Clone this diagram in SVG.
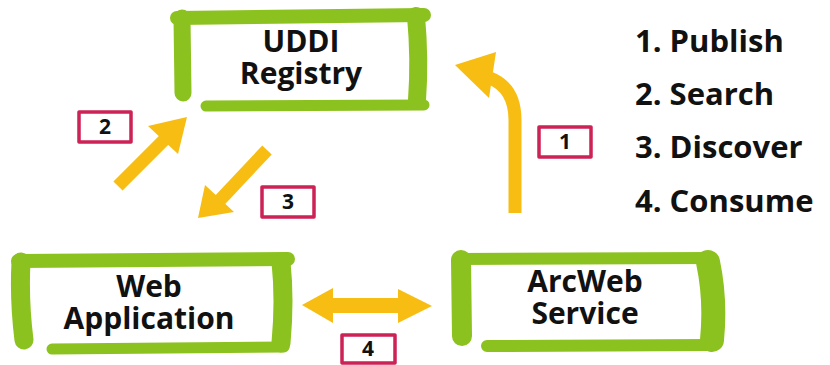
<svg xmlns="http://www.w3.org/2000/svg" width="830" height="365" viewBox="0 0 830 365">
<style>
.brush{fill:none;stroke:#8cc21f;stroke-linecap:round;stroke-linejoin:round}
.node{font-family:"Open Sans","Liberation Sans",sans-serif;font-weight:700;font-size:30px;fill:#111;text-anchor:middle}
.legend{font-family:"Open Sans","Liberation Sans",sans-serif;font-weight:700;font-size:31px;fill:#111}
.arrow{fill:#f7bd13}
.shaft{fill:none;stroke:#f7bd13;stroke-width:13}
.tag{fill:#fff;stroke:#cc2255;stroke-width:3.5;stroke-linejoin:round}
.num{font-family:"Open Sans","Liberation Sans",sans-serif;font-weight:700;font-size:21px;fill:#111;text-anchor:middle}
</style>
<rect width="830" height="365" fill="#fff"/>
<g id="uddi">
<path class="brush" stroke-width="14" d="M177,18 L424,15"/>
<path class="brush" stroke-width="17" d="M182,18 L183,93"/>
<path class="brush" stroke-width="18" d="M416,16 Q420,60 417,100"/>
<path class="brush" stroke-width="11" d="M206,106 L424,105"/>
<text class="node" x="301" y="52"><tspan x="301">UDDI</tspan><tspan x="301" dy="32">Registry</tspan></text>
</g>
<g id="webapp">
<path class="brush" stroke-width="14" d="M18,261 L288,259"/>
<path class="brush" stroke-width="19" d="M21,262 Q19,300 24,340"/>
<path class="brush" stroke-width="19" d="M281,262 Q285,300 281,343"/>
<path class="brush" stroke-width="11" d="M52,349 L284,347"/>
<text class="node" x="149" y="297"><tspan x="149">Web</tspan><tspan x="149" dy="32">Application</tspan></text>
</g>
<g id="arcweb">
<path class="brush" stroke-width="12" d="M458,259 L712,258"/>
<path class="brush" stroke-width="20" d="M461,260 L462,336"/>
<path class="brush" stroke-width="24" d="M708,262 Q716,300 712,340"/>
<path class="brush" stroke-width="12" d="M487,346 L712,345"/>
<text class="node" x="585" y="292"><tspan x="585">ArcWeb</tspan><tspan x="585" dy="32">Service</tspan></text>
</g>
<g id="legend">
<text class="legend" x="635" y="52">1. Publish</text>
<text class="legend" x="635" y="105">2. Search</text>
<text class="legend" x="635" y="158">3. Discover</text>
<text class="legend" x="635" y="212">4. Consume</text>
</g>
<g id="connectors">
<g id="c1">
<path class="shaft" stroke-width="14" d="M515,213 L515,120 Q515,88 490,78"/>
<polygon class="arrow" points="455,65 496,52 489,98"/>
<rect class="tag" x="539" y="127" width="52" height="30"/>
<text class="num" x="565" y="149">1</text>
</g>
<g id="c2">
<line class="shaft" x1="118" y1="186" x2="165" y2="139"/>
<polygon class="arrow" points="187,117 148,126 178,154"/>
<rect class="tag" x="79" y="112" width="52" height="30"/>
<text class="num" x="105" y="134">2</text>
</g>
<g id="c3">
<line class="shaft" x1="267" y1="150" x2="220" y2="200"/>
<polygon class="arrow" points="198,218 205,185 234,212"/>
<rect class="tag" x="262" y="187" width="52" height="30"/>
<text class="num" x="288" y="209">3</text>
</g>
<g id="c4">
<polygon class="arrow" points="302,305 333,288 333,298 398,298 398,289 432,306 398,323 398,313 333,313 333,323"/>
<rect class="tag" x="342" y="335" width="53" height="28"/>
<text class="num" x="368" y="356">4</text>
</g>
</g>
</svg>
